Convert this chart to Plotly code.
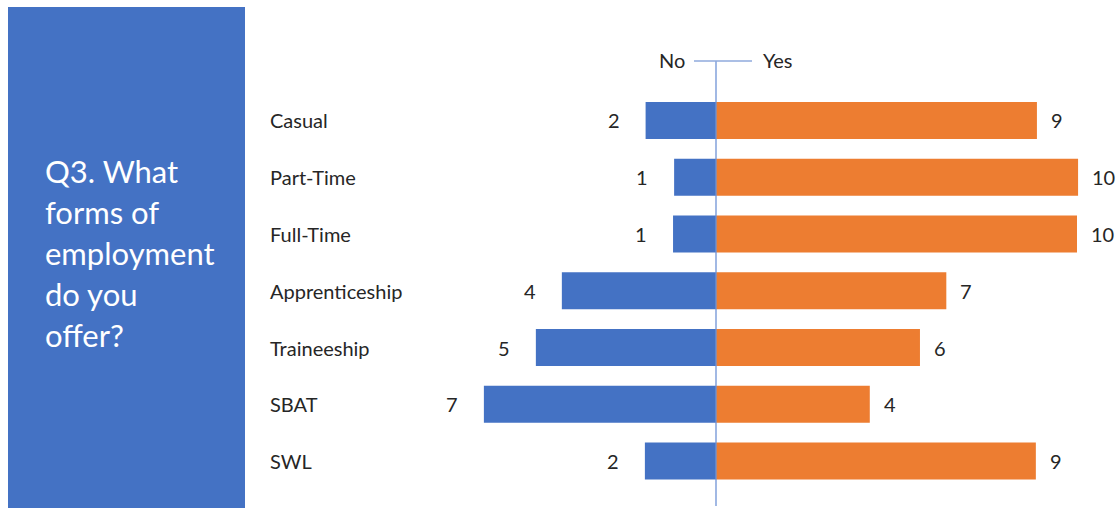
import plotly.graph_objects as go

# ---- data ----
categories = ["Casual", "Part-Time", "Full-Time", "Apprenticeship", "Traineeship", "SBAT", "SWL"]
no_counts = [2, 1, 1, 4, 5, 7, 2]          # labels shown
yes_counts = [9, 10, 10, 7, 6, 4, 9]       # labels shown
no_bar = [1.95, 1.16, 1.19, 4.27, 4.99, 6.43, 1.97]     # bar lengths as drawn
yes_bar = [8.89, 10.03, 10.0, 6.38, 5.65, 4.26, 8.86]  # bar lengths as drawn
question_lines = ["Q3. What", "forms of", "employment", "do you", "offer?"]

W, H = 1117, 508
BLUE = "#4472C4"
ORANGE = "#ED7D31"
TXT = "#262626"
FONT = "Lato"
LBL = 20

fig = go.Figure()
fig.add_trace(go.Bar(y=categories, x=[-v for v in no_bar], orientation="h", name="No",
                     marker=dict(color=BLUE, line=dict(width=0)),
                     customdata=no_counts, hovertemplate="%{y}: %{customdata}<extra>No</extra>"))
fig.add_trace(go.Bar(y=categories, x=yes_bar, orientation="h", name="Yes",
                     marker=dict(color=ORANGE, line=dict(width=0)),
                     customdata=yes_counts, hovertemplate="%{y}: %{customdata}<extra>Yes</extra>"))

def px_x(p):
    return p / W

def px_y(p):
    return (H - p) / H

ann = []
# value labels
for c, v, n in zip(categories, no_bar, no_counts):
    ann.append(dict(x=-v, y=c, xref="x", yref="y", text=str(n), showarrow=False,
                    xanchor="right", xshift=-24, font=dict(size=LBL, color=TXT, family=FONT)))
for c, v, n in zip(categories, yes_bar, yes_counts):
    ann.append(dict(x=v, y=c, xref="x", yref="y", text=str(n), showarrow=False,
                    xanchor="left", xshift=12, font=dict(size=LBL, color=TXT, family=FONT)))
# category labels
for c in categories:
    ann.append(dict(x=px_x(268), y=c, xref="paper", yref="y", text=c, showarrow=False,
                    xanchor="left", font=dict(size=LBL, color=TXT, family=FONT)))
# legend-like header
ann.append(dict(x=px_x(687), y=px_y(60), xref="paper", yref="paper", text="No", showarrow=False,
                xanchor="right", yanchor="middle", font=dict(size=LBL, color=TXT, family=FONT)))
ann.append(dict(x=px_x(761), y=px_y(60), xref="paper", yref="paper", text="Yes", showarrow=False,
                xanchor="left", yanchor="middle", font=dict(size=LBL, color=TXT, family=FONT)))
# question panel text
for i, line in enumerate(question_lines):
    ann.append(dict(x=px_x(43), y=px_y(171 + 41 * i), xref="paper", yref="paper", text=line,
                    showarrow=False, xanchor="left", yanchor="middle",
                    font=dict(size=31, color="white", family=FONT)))

shapes = [
    dict(type="rect", xref="paper", yref="paper", x0=px_x(8), x1=px_x(245), y0=0, y1=px_y(7),
         fillcolor=BLUE, line=dict(width=0), layer="below"),
    dict(type="line", xref="x", yref="paper", x0=0, x1=0, y0=px_y(506), y1=px_y(61),
         line=dict(color="#6F93D6", width=1.3)),
    dict(type="line", xref="paper", yref="paper", x0=px_x(694), x1=px_x(752), y0=px_y(61), y1=px_y(61),
         line=dict(color="#8FAADC", width=1.5)),
]

left_px, right_px = 716 - 8 * 36.1, 716 + 11 * 36.1
fig.update_layout(
    width=W, height=H, margin=dict(l=0, r=0, t=0, b=0),
    paper_bgcolor="white", plot_bgcolor="white",
    barmode="relative", bargap=0.35, showlegend=False,
    xaxis=dict(range=[-8, 11], domain=[left_px / W, right_px / W], visible=False, fixedrange=True),
    yaxis=dict(categoryorder="array", categoryarray=categories, autorange="reversed",
               domain=[px_y(489.4), px_y(92.1)], visible=False, fixedrange=True),
    annotations=ann, shapes=shapes,
    font=dict(family=FONT),
)
fig.write_html("out.html", config={"displayModeBar": False},
               post_script="document.body.style.margin='0';document.body.style.overflow='hidden';")
